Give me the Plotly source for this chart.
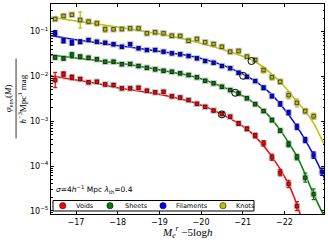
import plotly.graph_objects as go

# ---- data (absolute magnitude bins, log10 phi) ----
mag = [-16.5, -16.7, -16.9, -17.1, -17.3, -17.5, -17.7, -17.9, -18.1, -18.3,
       -18.5, -18.7, -18.9, -19.1, -19.3, -19.5, -19.7, -19.9, -20.1, -20.3,
       -20.5, -20.7, -20.9, -21.1, -21.3, -21.5, -21.7, -21.9, -22.1, -22.3,
       -22.5, -22.7, -22.9]

knots_log = [-0.72, -0.654, -0.625, -0.743, -0.78, -0.817, -0.951, -0.951, -0.944, -0.93,
             -0.93, -1.04, -1.018, -1.04, -1.094, -1.10, -1.205, -1.167, -1.24, -1.28,
             -1.34, -1.45, -1.435, -1.56, -1.636, -1.86, -2.02, -2.12, -2.42, -2.59,
             -2.775, -2.89]
knots_err = [0.04, 0.04, 0.03, 0.18, 0.05, 0.05, 0.06, 0.04, 0.04, 0.04,
             0.04, 0.04, 0.04, 0.04, 0.04, 0.04, 0.04, 0.04, 0.04, 0.04,
             0.04, 0.04, 0.04, 0.04, 0.05, 0.06, 0.06, 0.05, 0.08, 0.09,
             0.06, 0.07]

fil_log = [-1.04, -1.205, -1.25, -1.228, -1.19, -1.228, -1.252, -1.286, -1.34, -1.286,
           -1.375, -1.413, -1.413, -1.45, -1.487, -1.509, -1.547, -1.598, -1.658, -1.696,
           -1.77, -1.82, -1.92, -2.01, -2.105, -2.254, -2.44, -2.614, -2.81, -3.125,
           -3.42, -3.757, -4.13]
fil_err = [0.06, 0.05, 0.05, 0.04, 0.03, 0.03, 0.03, 0.03, 0.03, 0.03,
           0.03, 0.03, 0.03, 0.03, 0.03, 0.03, 0.03, 0.03, 0.03, 0.03,
           0.03, 0.03, 0.03, 0.03, 0.03, 0.04, 0.04, 0.05, 0.05, 0.06,
           0.06, 0.07, 0.08]

sheet_log = [-1.576, -1.598, -1.525, -1.562, -1.585, -1.62, -1.674, -1.674, -1.73, -1.725,
             -1.77, -1.808, -1.844, -1.875, -1.897, -1.933, -1.971, -2.022, -2.098, -2.156,
             -2.232, -2.306, -2.38, -2.49, -2.62, -2.775, -2.975, -3.21, -3.51, -3.8,
             -4.26, -4.63]
sheet_err = [0.04, 0.04, 0.06, 0.04, 0.03, 0.03, 0.03, 0.03, 0.03, 0.03,
             0.03, 0.03, 0.03, 0.03, 0.03, 0.03, 0.03, 0.03, 0.03, 0.03,
             0.03, 0.03, 0.03, 0.03, 0.03, 0.03, 0.04, 0.04, 0.06, 0.06,
             0.10, 0.12]

void_log = [-2.083, -1.949, -2.022, -2.06, -2.134, -2.12, -2.18, -2.194, -2.268, -2.268,
            -2.254, -2.32, -2.357, -2.344, -2.446, -2.473, -2.53, -2.612, -2.68, -2.763,
            -2.84, -2.9, -3.05, -3.17, -3.32, -3.495, -3.806, -4.147, -4.4, -4.895]
void_err = [0.17, 0.05, 0.05, 0.03, 0.03, 0.03, 0.03, 0.03, 0.03, 0.03,
            0.03, 0.03, 0.03, 0.03, 0.03, 0.03, 0.03, 0.03, 0.03, 0.03,
            0.03, 0.03, 0.04, 0.04, 0.05, 0.06, 0.07, 0.07, 0.08, 0.10]

# ---- fitted curves ----
knots_fit_m = [-16.40, -17.29, -18.18, -19.02, -19.86, -20.70, -21.30, -21.90, -22.31, -22.50, -22.70, -22.96]
knots_fit_log = [-0.683, -0.804, -0.929, -1.056, -1.228, -1.458, -1.674, -2.127, -2.574, -2.775, -3.042, -3.534]
fil_fit_m = [-16.40, -17.29, -18.18, -19.02, -19.86, -20.70, -21.30, -21.66, -21.90, -22.31, -22.70, -22.96]
fil_fit_log = [-1.094, -1.223, -1.335, -1.446, -1.569, -1.815, -2.105, -2.373, -2.618, -3.132, -3.757, -4.27]
sheet_fit_m = [-16.40, -17.29, -18.18, -19.02, -19.86, -20.70, -21.11, -21.54, -21.90, -22.31, -22.70, -22.94]
sheet_fit_log = [-1.525, -1.625, -1.725, -1.859, -2.016, -2.306, -2.491, -2.797, -3.199, -3.801, -4.627, -5.096]
void_fit_m = [-16.40, -17.29, -18.18, -19.02, -19.86, -20.51, -21.18, -21.71, -22.10, -22.38]
void_fit_log = [-1.993, -2.127, -2.283, -2.406, -2.596, -2.848, -3.237, -3.801, -4.404, -5.074]

# characteristic magnitudes (open circles)
mstar_m = [-20.50, -20.82, -21.01, -21.21]
mstar_log = [-2.848, -2.366, -1.987, -1.658]

names = ["Voids", "Sheets", "Filaments", "Knots"]
colors = ["#ff0000", "#007f00", "#0000ff", "#bfbf00"]
ytick_vals = [1e-5, 1e-4, 1e-3, 1e-2, 1e-1]
ytick_text = ["10<sup>−5</sup>", "10<sup>−4</sup>", "10<sup>−3</sup>", "10<sup>−2</sup>", "10<sup>−1</sup>"]
xtick_vals = [-17, -18, -19, -20, -21, -22]
xtick_text = ["−17", "−18", "−19", "−20", "−21", "−22"]

series = [
    (void_log, void_err, void_fit_m, void_fit_log),
    (sheet_log, sheet_err, sheet_fit_m, sheet_fit_log),
    (fil_log, fil_err, fil_fit_m, fil_fit_log),
    (knots_log, knots_err, knots_fit_m, knots_fit_log),
]

fig = go.Figure()
for (lg, er, fm, fl), col in zip(series, colors):
    phi = [10 ** v for v in lg]
    plus = [p * (10 ** e - 1) for p, e in zip(phi, er)]
    minus = [p * (1 - 10 ** -e) for p, e in zip(phi, er)]
    fig.add_trace(go.Scatter(
        x=fm, y=[10 ** v for v in fl], mode="lines", line=dict(color=col, width=1.5, shape="spline"),
        showlegend=False, hoverinfo="skip"))
    # grey halo behind the points
    fig.add_trace(go.Scatter(
        x=mag[:len(lg)], y=phi, mode="markers",
        marker=dict(symbol="square", size=6.5, color="rgba(175,175,175,0.75)"),
        showlegend=False, hoverinfo="skip"))
    fig.add_trace(go.Scatter(
        x=mag[:len(lg)], y=phi, mode="markers",
        marker=dict(symbol="square", size=3.5, color=col, line=dict(color="rgba(0,0,0,0.7)", width=0.8)),
        error_y=dict(type="data", array=plus, arrayminus=minus, color=col, thickness=1.3, width=2),
        showlegend=False))

fig.add_trace(go.Scatter(
    x=mstar_m, y=[10 ** v for v in mstar_log], mode="markers",
    marker=dict(symbol="circle-open", size=7, color="black", line=dict(width=1)),
    showlegend=False))

# hand-drawn legend (box, colour dots, labels), in paper coordinates
leg_dot_x = [0.0429, 0.2161, 0.4103, 0.630]
leg_txt_x = [0.0842, 0.2626, 0.4505, 0.6703]
leg_y = 0.0395
shapes = [dict(type="rect", xref="paper", yref="paper", x0=0.0073, x1=0.7436, y0=0.0143, y1=0.0643,
               line=dict(color="black", width=1), fillcolor="white", layer="above")]
annotations = []
for dx, tx, n, col in zip(leg_dot_x, leg_txt_x, names, colors):
    shapes.append(dict(type="circle", xref="paper", yref="paper",
                       x0=dx - 0.0115, x1=dx + 0.0115, y0=leg_y - 0.015, y1=leg_y + 0.015,
                       fillcolor=col, line=dict(color="black", width=0.5), layer="above"))
    annotations.append(dict(text=n, xref="paper", yref="paper", x=tx, y=leg_y,
                            xanchor="left", yanchor="middle", showarrow=False,
                            font=dict(family="DejaVu Sans", size=6.5)))

# y label as a fraction
shapes.append(dict(type="line", xref="paper", yref="paper", x0=-0.128, x1=-0.128, y0=0.36, y1=0.74,
                   line=dict(color="black", width=0.8)))
annotations += [
    dict(text="<i>M</i><sub><i>e</i></sub><sup><i>r</i></sup> −5log<i>h</i>", xref="paper", yref="paper",
         x=0.5, y=-0.088, xanchor="center", yanchor="middle", showarrow=False,
         font=dict(family="Liberation Serif", size=11)),
    dict(text="<i>φ</i><sub>env</sub>(<i>M</i>)", xref="paper", yref="paper",
         x=-0.155, y=0.55, xanchor="center", yanchor="middle", textangle=-90, showarrow=False,
         font=dict(family="Liberation Serif", size=9)),
    dict(text="<i>h</i><sup>−3</sup>Mpc<sup>3</sup> mag", xref="paper", yref="paper",
         x=-0.103, y=0.55, xanchor="center", yanchor="middle", textangle=-90, showarrow=False,
         font=dict(family="Liberation Serif", size=9)),
    dict(text="<i>σ</i>=4<i>h</i><sup>−1</sup> Mpc <i>λ</i><sub>th</sub>=0.4", xref="paper", yref="paper",
         x=0.012, y=0.117, xanchor="left", yanchor="middle", showarrow=False,
         font=dict(family="DejaVu Sans", size=7.5)),
]

fig.update_layout(
    width=328, height=245,
    margin=dict(l=51, r=4, t=4, b=31, autoexpand=False),
    paper_bgcolor="white", plot_bgcolor="white",
    font=dict(family="DejaVu Sans", size=8, color="black"),
    showlegend=False,
    xaxis=dict(range=[-16.4, -22.95], showgrid=False, zeroline=False, automargin=False,
               showline=True, linecolor="black", linewidth=1, mirror="ticks",
               ticks="inside", ticklen=3, tickcolor="black",
               tickvals=xtick_vals, ticktext=xtick_text, tickfont=dict(size=8)),
    yaxis=dict(type="log", range=[-5.07, -0.386], showgrid=False, zeroline=False, automargin=False,
               showline=True, linecolor="black", linewidth=1, mirror="ticks",
               ticks="inside", ticklen=3, tickcolor="black",
               tickvals=ytick_vals, ticktext=ytick_text, tickfont=dict(size=8),
               minor=dict(ticks="inside", ticklen=1.5, tickcolor="black", dtick="D1", showgrid=False)),
    annotations=annotations,
    shapes=shapes,
)

fig.write_html("out.html", config={"displayModeBar": False},
               post_script="document.body.style.margin='0px';document.body.style.padding='0px';")
